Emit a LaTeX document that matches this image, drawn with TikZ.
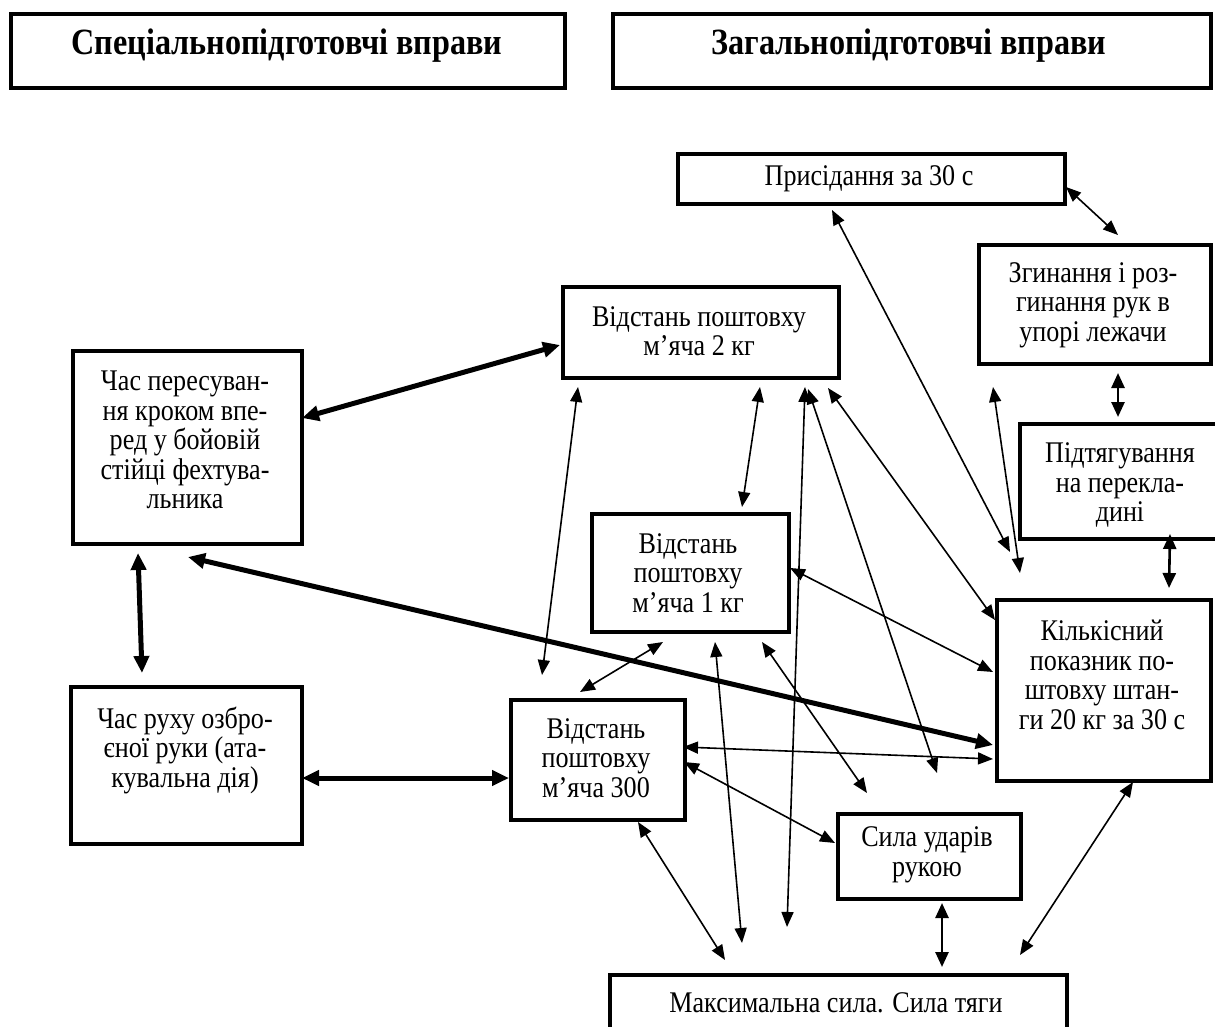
\documentclass[tikz,border=0pt]{standalone}
\usepackage{fontspec}
\setmainfont[FakeStretch=0.87]{Liberation Serif}
\usetikzlibrary{arrows.meta}
\begin{document}
\begin{tikzpicture}[x=1pt,y=-1pt,
  box/.style={draw, line width=3.8pt, inner sep=0pt, anchor=north west},
  txt/.style={align=center, font=\fontsize{30}{29.5}\selectfont, inner sep=0pt},
  hdr/.style={font=\fontsize{37}{40}\selectfont\bfseries, inner sep=0pt},
  thinarr/.style={line width=1.6pt, {Triangle[length=15pt,width=12pt]}-{Triangle[length=15pt,width=12pt]}},
  midarr/.style={line width=2.6pt, {Triangle[length=15pt,width=13pt]}-{Triangle[length=15pt,width=13pt]}},
  thickarr/.style={line width=5pt, {Triangle[length=17pt,width=15pt]}-{Triangle[length=17pt,width=15pt]}},
]
\useasboundingbox[fill=white] (0,0) rectangle (1215,1027);

% boxes
\node[box, minimum width=554pt, minimum height=74pt] (h1) at (9,12) {};
\node[box, minimum width=598pt, minimum height=74pt] (h2) at (611,12) {};
\node[box, minimum width=387pt, minimum height=50pt] (prys) at (676,152) {};
\node[box, minimum width=232pt, minimum height=119pt] (zgyn) at (977,243) {};
\node[box, minimum width=225pt, minimum height=115pt] (pidt) at (1018,422) {};
\node[box, minimum width=214pt, minimum height=181pt] (kilk) at (995,598) {};
\node[box, minimum width=276pt, minimum height=91pt] (v2) at (561,285) {};
\node[box, minimum width=197pt, minimum height=118pt] (v1) at (590,512) {};
\node[box, minimum width=174pt, minimum height=120pt] (v300) at (509,698) {};
\node[box, minimum width=229pt, minimum height=193pt] (chas1) at (71,349) {};
\node[box, minimum width=231pt, minimum height=157pt] (chas2) at (69,685) {};
\node[box, minimum width=183pt, minimum height=85pt] (syla) at (836,812) {};
\node[box, minimum width=457pt, minimum height=80pt] (maks) at (608,973) {};

% texts
\node[hdr] (h1t) at (287,46) {Спеціальнопідготовчі вправи};
\node[hdr] (h2t) at (909,46) {Загальнопідготовчі вправи};
\node[txt] (pryst) at (869,179) {Присідання за 30 с};
\node[txt] (zgynt) at (1093,305) {Згинання і роз-\\гинання рук в\\упорі лежачи};
\node[txt] (pidtt) at (1120,485) {Підтягування\\на перекла-\\дині};
\node[txt] (kilkt) at (1102,675) {Кількісний\\показник по-\\штовху штан-\\ги 20 кг за 30 с};
\node[txt] (v2t) at (699,331) {Відстань поштовху\\м’яча 2 кг};
\node[txt] (v1t) at (688,573) {Відстань\\поштовху\\м’яча 1 кг};
\node[txt] (v300t) at (596,758) {Відстань\\поштовху\\м’яча 300};
\node[txt] (chas1t) at (185,440) {Час пересуван-\\ня кроком впе-\\ред у бойовій\\стійці фехтува-\\льника};
\node[txt] (chas2t) at (185,750) {Час руху озбро-\\єної руки (ата-\\кувальна дія)};
\node[txt] (sylat) at (927,855) {Сила ударів\\рукою};
\node[txt] (makst) at (836,1003) {Максимальна сила. Сила тяги};

% connector end points
\coordinate (a1) at (302,418);  \coordinate (a2) at (560,345);
\coordinate (b1) at (138,553);  \coordinate (b2) at (142,673);
\coordinate (c1) at (302,778);  \coordinate (c2) at (509,778);
\coordinate (d1) at (188,557);  \coordinate (d2) at (993,745);
\coordinate (e1) at (578,387);  \coordinate (e2) at (542,675);
\coordinate (f1) at (760,387);  \coordinate (f2) at (742,507);
\coordinate (g1) at (805,387);  \coordinate (g2) at (787,927);
\coordinate (i1) at (808,389);  \coordinate (i2) at (937,773);
\coordinate (j1) at (828,388);  \coordinate (j2) at (995,620);
\coordinate (k1) at (832,210);  \coordinate (k2) at (1010,552);
\coordinate (l1) at (993,387);  \coordinate (l2) at (1020,573);
\coordinate (m1) at (1066,187); \coordinate (m2) at (1118,235);
\coordinate (n1) at (1118,373); \coordinate (n2) at (1118,417);
\coordinate (o1) at (1170,534); \coordinate (o2) at (1169,588);
\coordinate (p1) at (790,568);  \coordinate (p2) at (993,672);
\coordinate (q1) at (663,642);  \coordinate (q2) at (580,692);
\coordinate (r1) at (715,642);  \coordinate (r2) at (742,943);
\coordinate (s1) at (762,642);  \coordinate (s2) at (867,793);
\coordinate (t1) at (683,747);  \coordinate (t2) at (993,759);
\coordinate (u1) at (684,762);  \coordinate (u2) at (835,843);
\coordinate (w1) at (638,822);  \coordinate (w2) at (725,960);
\coordinate (x1) at (942,903);  \coordinate (x2) at (942,967);
\coordinate (y1) at (1133,782); \coordinate (y2) at (1020,955);

% thick connectors
\draw[thickarr] (a1) -- (a2);
\draw[thickarr] (b1) -- (b2);
\draw[thickarr] (c1) -- (c2);
\draw[thickarr] (d1) -- (d2);

% thin connectors
\draw[thinarr] (e1) -- (e2);
\draw[thinarr] (f1) -- (f2);
\draw[thinarr] (g1) -- (g2);
\draw[thinarr] (i1) -- (i2);
\draw[thinarr] (j1) -- (j2);
\draw[thinarr] (k1) -- (k2);
\draw[thinarr] (l1) -- (l2);
\draw[thinarr] (m1) -- (m2);
\draw[midarr] (n1) -- (n2);
\draw[midarr] (o1) -- (o2);
\draw[thinarr] (p1) -- (p2);
\draw[thinarr] (q1) -- (q2);
\draw[thinarr] (r1) -- (r2);
\draw[thinarr] (s1) -- (s2);
\draw[thinarr] (t1) -- (t2);
\draw[thinarr] (u1) -- (u2);
\draw[thinarr] (w1) -- (w2);
\draw[midarr] (x1) -- (x2);
\draw[thinarr] (y1) -- (y2);
\end{tikzpicture}
\end{document}
